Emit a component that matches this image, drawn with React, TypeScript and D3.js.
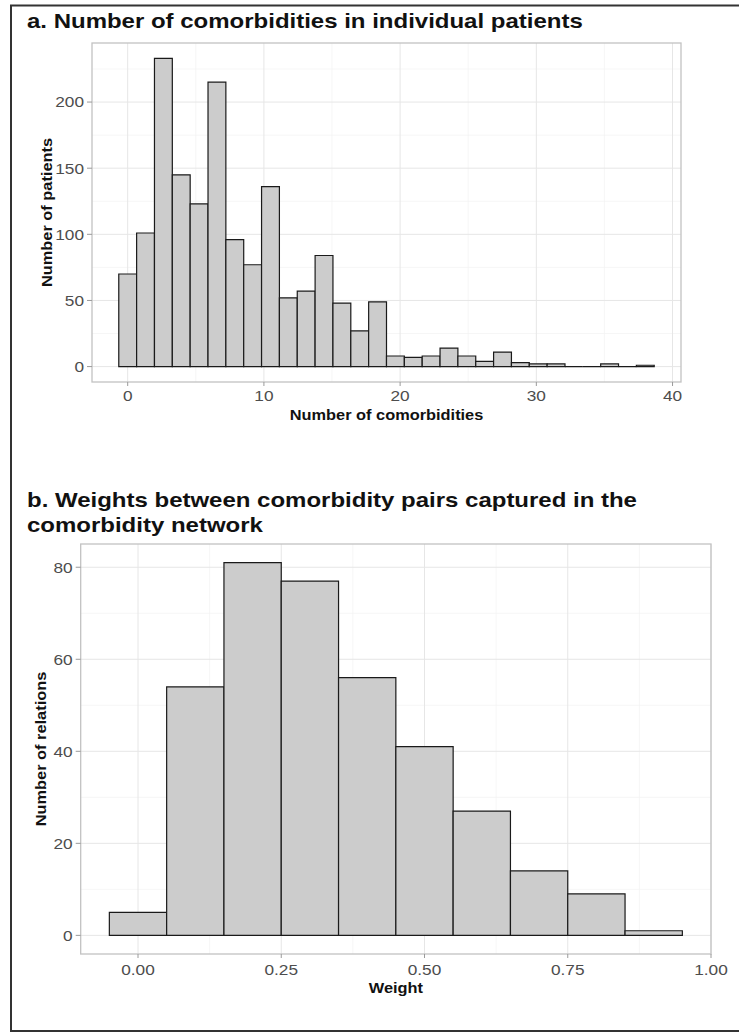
import React from "react";
import * as d3 from "d3";

const FONT = '"Liberation Sans", Arial, Helvetica, sans-serif';
const SX = 1.15; // the reference type is a little wider than Arial

// a. number of comorbidities per patient, 30 bins over 0..38
const comorbidityRange = [0, 38];
const comorbidityCounts = [
  70, 101, 233, 145, 123, 215, 96, 77, 136, 52, 57, 84, 48, 27, 49,
  8, 7, 8, 14, 8, 4, 11, 3, 2, 2, 0, 0, 2, 0, 1,
];
const comorbidityTicksX = [0, 10, 20, 30, 40];
const comorbidityTicksY = [0, 50, 100, 150, 200];

// b. weights between comorbidity pairs, binwidth 0.1
const weightBins = [0, 0.1, 0.2, 0.3, 0.4, 0.5, 0.6, 0.7, 0.8, 0.9];
const weightCounts = [5, 54, 81, 77, 56, 41, 27, 14, 9, 1];
const weightTicksX = [0, 0.25, 0.5, 0.75, 1];
const weightTicksY = [0, 20, 40, 60, 80];

const expand = ([a, b]: number[]) => {
  const d = (b - a) * 0.05;
  return [a - d, b + d];
};

const minorBetween = (ticks: number[], domain: number[]) => {
  const step = ticks[1] - ticks[0];
  const out: number[] = [];
  for (let i = -1; i < ticks.length; i++) {
    const m = ticks[0] + step * (i + 0.5);
    if (m > domain[0] && m < domain[1]) out.push(m);
  }
  return out;
};

type PanelProps = {
  centers: number[];
  counts: number[];
  binwidth: number;
  box: { left: number; right: number; top: number; bottom: number };
  ticksX: number[];
  ticksY: number[];
  fmtX: (v: number) => string;
  xTitle: string;
  yTitle: string;
  xTickBase: number;
  xTitleBase: number;
  yTitleX: number;
};

const Panel = ({ centers, counts, binwidth, box, ticksX, ticksY, fmtX, xTitle, yTitle, xTickBase, xTitleBase, yTitleX }: PanelProps) => {
  const xDom = expand([centers[0] - binwidth / 2, centers[centers.length - 1] + binwidth / 2]);
  const yDom = expand([0, d3.max(counts) as number]);
  const x = d3.scaleLinear().domain(xDom).range([box.left, box.right]);
  const y = d3.scaleLinear().domain(yDom).range([box.bottom, box.top]);
  const majorX = ticksX.filter((t) => t >= xDom[0] && t <= xDom[1]);
  const majorY = ticksY.filter((t) => t >= yDom[0] && t <= yDom[1]);
  const minX = minorBetween(ticksX, xDom);
  const minY = minorBetween(ticksY, yDom);
  const cx = (box.left + box.right) / 2;
  const cy = (box.top + box.bottom) / 2;

  // zero-count bins still get an outline, like ggplot draws them
  const barPath = (c: number, n: number) => {
    const x0 = x(c - binwidth / 2);
    const x1 = x(c + binwidth / 2);
    return `M${x0},${y(0)}V${y(n)}H${x1}V${y(0)}Z`;
  };

  return (
    <g>
      <rect x={box.left} y={box.top} width={box.right - box.left} height={box.bottom - box.top} fill="#fff" />
      {minX.map((t) => (
        <line key={"mx" + t} x1={x(t)} x2={x(t)} y1={box.top} y2={box.bottom} stroke="#f2f2f2" strokeWidth={0.7} />
      ))}
      {minY.map((t) => (
        <line key={"my" + t} x1={box.left} x2={box.right} y1={y(t)} y2={y(t)} stroke="#f2f2f2" strokeWidth={0.7} />
      ))}
      {majorX.map((t) => (
        <line key={"gx" + t} x1={x(t)} x2={x(t)} y1={box.top} y2={box.bottom} stroke="#e6e6e6" strokeWidth={1} />
      ))}
      {majorY.map((t) => (
        <line key={"gy" + t} x1={box.left} x2={box.right} y1={y(t)} y2={y(t)} stroke="#e6e6e6" strokeWidth={1} />
      ))}
      {centers.map((c, i) => (
        <path key={"b" + i} d={barPath(c, counts[i])} fill="#cccccc" stroke="#1a1a1a" strokeWidth={1.2} />
      ))}
      <rect x={box.left} y={box.top} width={box.right - box.left} height={box.bottom - box.top} fill="none" stroke="#c2c2c2" strokeWidth={1.3} />
      {majorX.map((t) => (
        <g key={"tx" + t}>
          <line x1={x(t)} x2={x(t)} y1={box.bottom} y2={box.bottom + 4} stroke="#9a9a9a" strokeWidth={1} />
          <text transform={`translate(${x(t)},${xTickBase}) scale(${SX},1)`} textAnchor="middle" fontSize={15} fill="#4d4d4d" fontFamily={FONT}>
            {fmtX(t)}
          </text>
        </g>
      ))}
      {majorY.map((t) => (
        <g key={"ty" + t}>
          <line x1={box.left - 5} x2={box.left} y1={y(t)} y2={y(t)} stroke="#9a9a9a" strokeWidth={1} />
          <text transform={`translate(${box.left - 8},${y(t) + 5.4}) scale(${SX},1)`} textAnchor="end" fontSize={15} fill="#4d4d4d" fontFamily={FONT}>
            {t}
          </text>
        </g>
      ))}
      <text transform={`translate(${cx},${xTitleBase}) scale(1.17,1)`} textAnchor="middle" fontSize={14} fontWeight="bold" fill="#111" fontFamily={FONT}>
        {xTitle}
      </text>
      <text transform={`translate(${yTitleX},${cy}) rotate(-90) scale(1.17,1)`} textAnchor="middle" fontSize={14} fontWeight="bold" fill="#111" fontFamily={FONT}>
        {yTitle}
      </text>
    </g>
  );
};

export default function App() {
  const bwA = (comorbidityRange[1] - comorbidityRange[0]) / (comorbidityCounts.length - 1);
  const centersA = comorbidityCounts.map((_, i) => comorbidityRange[0] + i * bwA);

  return (
    <svg width={739} height={1036} style={{ position: "absolute", left: 0, top: 0, display: "block", background: "#fff" }}>
      <rect x={11} y={5.5} width={800} height={1025.5} fill="#fff" stroke="#333" strokeWidth={2} />

      <text transform={`translate(27,27.5) scale(1.2,1)`} fontSize={20} fontWeight="bold" fill="#111" fontFamily={FONT}>
        a. Number of comorbidities in individual patients
      </text>
      <Panel
        centers={centersA}
        counts={comorbidityCounts}
        binwidth={bwA}
        box={{ left: 92, right: 681, top: 43, bottom: 382 }}
        ticksX={comorbidityTicksX}
        ticksY={comorbidityTicksY}
        fmtX={(v) => String(v)}
        xTitle="Number of comorbidities"
        yTitle="Number of patients"
        xTickBase={401}
        xTitleBase={420}
        yTitleX={52}
      />

      <text transform={`translate(27,507.3) scale(1.2,1)`} fontSize={20} fontWeight="bold" fill="#111" fontFamily={FONT}>
        b. Weights between comorbidity pairs captured in the
      </text>
      <text transform={`translate(27,532.3) scale(1.2,1)`} fontSize={20} fontWeight="bold" fill="#111" fontFamily={FONT}>
        comorbidity network
      </text>
      <Panel
        centers={weightBins}
        counts={weightCounts}
        binwidth={0.1}
        box={{ left: 80.7, right: 711, top: 544, bottom: 954 }}
        ticksX={weightTicksX}
        ticksY={weightTicksY}
        fmtX={(v) => v.toFixed(2)}
        xTitle="Weight"
        yTitle="Number of relations"
        xTickBase={974.5}
        xTitleBase={992.5}
        yTitleX={46}
      />
    </svg>
  );
}
